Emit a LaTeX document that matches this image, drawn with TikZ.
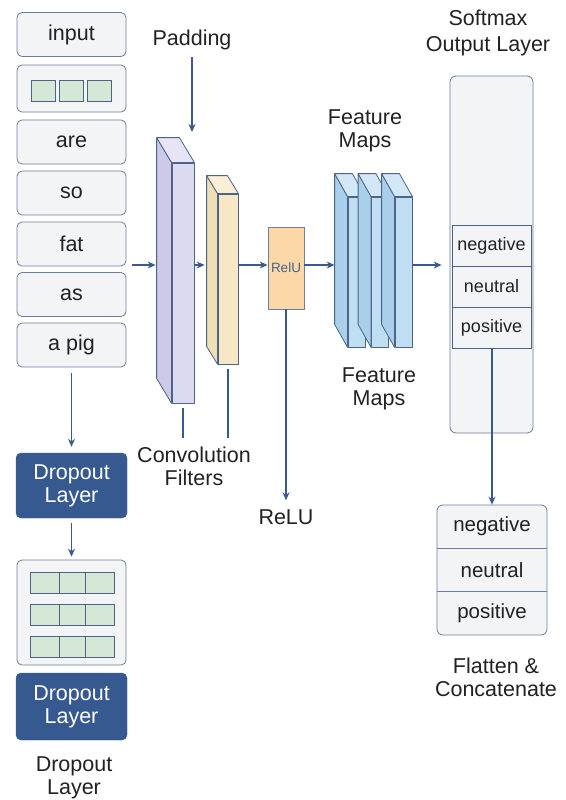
\documentclass[tikz,border=0pt]{standalone}
\usepackage{fontspec}
\setmainfont{Liberation Sans}
\usetikzlibrary{arrows.meta,calc}

\definecolor{linec}{HTML}{3A5A8C}
\definecolor{boxline}{HTML}{6B7F9E}
\definecolor{boxfill}{HTML}{F3F4F6}
\definecolor{dropfill}{HTML}{36598F}
\definecolor{cellfill}{HTML}{D5E8D6}
\definecolor{cellline}{HTML}{4D6385}
\definecolor{edgec}{HTML}{4D6486}
\definecolor{purpF}{HTML}{DCDAF0}
\definecolor{purpS}{HTML}{CDC9E6}
\definecolor{purpT}{HTML}{E6E4F5}
\definecolor{yelF}{HTML}{F8E7C6}
\definecolor{yelS}{HTML}{EEDFB4}
\definecolor{yelT}{HTML}{FAEED6}
\definecolor{reluF}{HTML}{FCD8A8}
\definecolor{blueF}{HTML}{C0DEF2}
\definecolor{blueS}{HTML}{A9CFEA}
\definecolor{blueT}{HTML}{D2E8F7}
\definecolor{txt}{HTML}{222222}

\newcommand\lbl{\fontsize{21.5}{23}\selectfont}
\newcommand\rowlbl{\fontsize{18}{21}\selectfont}
\newcommand\flatrow{\fontsize{20.5}{23}\selectfont}

% side and top faces of a box whose front face is node #1
\newcommand\prismfaces[5]{%
  \draw[prismedge, fill=#4] (#1.north west) -- ++(#2,#3)
     -- ($(#1.south west)+(#2,#3)$) -- (#1.south west) -- cycle;
  \draw[prismedge, fill=#5] (#1.north west) -- ++(#2,#3)
     -- ($(#1.north east)+(#2,#3)$) -- (#1.north east) -- cycle;
}

\begin{document}
\begin{tikzpicture}[x=1pt,y=-1pt,
  font=\lbl, text=txt,
  wordbox/.style={draw=boxline, fill=boxfill, line width=0.8pt, rounded corners=5pt,
    minimum width=109pt, minimum height=44pt, inner sep=0pt},
  dropbox/.style={draw=dropfill, fill=dropfill, rounded corners=5pt, text=white,
    minimum width=111pt, align=center, inner sep=0pt},
  cell/.style={draw=cellline, fill=cellfill, line width=0.8pt, inner sep=0pt},
  prismedge/.style={draw=edgec, line width=0.8pt, line join=round},
  front/.style={prismedge, inner sep=0pt},
  arr/.style={draw=linec, line width=1.1pt, -{Stealth[length=8pt,width=7pt]}},
  plain/.style={draw=linec, line width=1.1pt},
  caption/.style={align=center, inner sep=0pt},
]
\useasboundingbox[fill=white] (0,0) rectangle (565,800);

% ---------- input column ----------
\node[wordbox] (input) at (71.5,34.5) {input};
\node[wordbox, minimum height=47pt] (emb) at (71.5,88.5) {};
\foreach \cx in {43,71,99}
  \node[cell, minimum width=24pt, minimum height=21pt] at (\cx,90.5) {};
\node[wordbox] (are) at (71.5,142) {are};
\node[wordbox] (so) at (71.5,193) {so};
\node[wordbox] (fat) at (71.5,244) {fat};
\node[wordbox] (as) at (71.5,294.5) {as};
\node[wordbox] (apig) at (71.5,345) {a pig};

\node[dropbox, minimum height=65pt] (drop1) at (71.5,485.5) {Dropout\\Layer};
\node[wordbox, minimum height=105pt] (grid) at (71.5,612.5) {};
\foreach \ry in {582.5,614.5,647} {
  \node[cell, minimum width=29pt, minimum height=21pt] at (44.5,\ry) {};
  \node[cell, minimum width=26pt, minimum height=21pt] at (72,\ry) {};
  \node[cell, minimum width=29pt, minimum height=21pt] at (99.5,\ry) {};
}
\node[dropbox, minimum height=67pt] (drop2) at (71.5,706.5) {Dropout\\Layer};
\node[caption] (droplbl) at (74,778) {Dropout\\Layer};

\draw[arr, shorten <=6pt, shorten >=6pt] (apig.south) -- (drop1.north);
\draw[arr, shorten <=5pt, shorten >=3pt] (drop1.south) -- (grid.north);

% ---------- convolution stage ----------
\coordinate (flow) at (0,265);

\node[front, fill=purpF, minimum width=22pt, minimum height=240pt] (pf) at (183,283) {};
\prismfaces{pf}{-15}{-25}{purpS}{purpT}
\node[front, fill=yelF, minimum width=20pt, minimum height=170pt] (yf) at (228,279) {};
\prismfaces{yf}{-11}{-18}{yelS}{yelT}

\node[caption] (pad) at (192,40) {Padding};
\coordinate (padend) at (192,132);
\draw[arr, shorten <=7pt] (pad.south) -- (padend);

\node[draw=boxline, fill=reluF, line width=0.8pt, minimum width=36pt, minimum height=82pt,
  inner sep=0pt, font=\fontsize{13.5}{15}\selectfont, text=linec!80!gray] (relu) at (286,268) {RelU};

\draw[arr, shorten <=6pt, shorten >=16pt] (fat.east |- flow) -- (pf.west |- flow);
\draw[arr, shorten >=13pt] (pf.east |- flow) -- (yf.west |- flow);
\draw[arr] (yf.east |- flow) -- (relu.west |- flow);

\node[caption] (conv) at (194,466) {Convolution\\Filters};
\draw[plain, shorten <=5pt] (pf.south) -- (pf.south |- 0,438);
\draw[plain, shorten <=5pt] (yf.south) -- (yf.south |- 0,438);

\node[caption] (relulbl) at (286,517) {ReLU};
\draw[arr, shorten >=9pt] (relu.south) -- (relulbl.north);

% ---------- feature maps ----------
\node[front, fill=blueF, minimum width=17pt, minimum height=150pt] (f1) at (356.5,272) {};
\prismfaces{f1}{-13}{-23}{blueS}{blueT}
\node[front, fill=blueF, minimum width=17pt, minimum height=150pt] (f2) at (380,272) {};
\prismfaces{f2}{-13}{-23}{blueS}{blueT}
\node[front, fill=blueF, minimum width=17pt, minimum height=150pt] (f3) at (403.5,272) {};
\prismfaces{f3}{-13}{-23}{blueS}{blueT}

\node[caption] (fmtop) at (365,131) {Feature\\Maps};
\node[caption] (fmbot) at (379,388.5) {Feature\\Maps};

\draw[arr, shorten >=13pt] (relu.east |- flow) -- (f1.west |- flow);

% ---------- softmax output ----------
\node[caption, font=\fontsize{21.5}{26}\selectfont] (softlbl) at (488,33) {Softmax\\Output Layer};
\node[draw=boxline, fill=boxfill, line width=0.8pt, rounded corners=6pt,
  minimum width=83pt, minimum height=357pt, inner sep=0pt] (soft) at (491.5,254.5) {};
\foreach \nm/\cy/\t in {sneg/245.5/negative, sneu/286.5/neutral, spos/327.5/positive}
  \node[draw=edgec, fill=boxfill, line width=0.8pt, minimum width=79pt, minimum height=41pt,
    inner sep=0pt, font=\rowlbl] (\nm) at (491.5,\cy) {\t};

\draw[arr, shorten >=8pt] (f3.east |- flow) -- (soft.west |- flow);

% ---------- flatten & concatenate ----------
\node[draw=boxline, fill=boxfill, line width=0.8pt, rounded corners=6pt,
  minimum width=110pt, minimum height=130pt, inner sep=0pt] (flat) at (492,570) {};
\draw[draw=boxline, line width=0.8pt] (flat.west |- 0,548.3) -- (flat.east |- 0,548.3);
\draw[draw=boxline, line width=0.8pt] (flat.west |- 0,591.7) -- (flat.east |- 0,591.7);
\node[font=\flatrow] (fneg) at (492,526.5) {negative};
\node[font=\flatrow] (fneu) at (492,570) {neutral};
\node[font=\flatrow] (fpos) at (492,613) {positive};
\node[caption] (flatlbl) at (496,677) {Flatten \&\\Concatenate};

\draw[arr] (spos.south -| flat.north) -- (flat.north);
\end{tikzpicture}
\end{document}
